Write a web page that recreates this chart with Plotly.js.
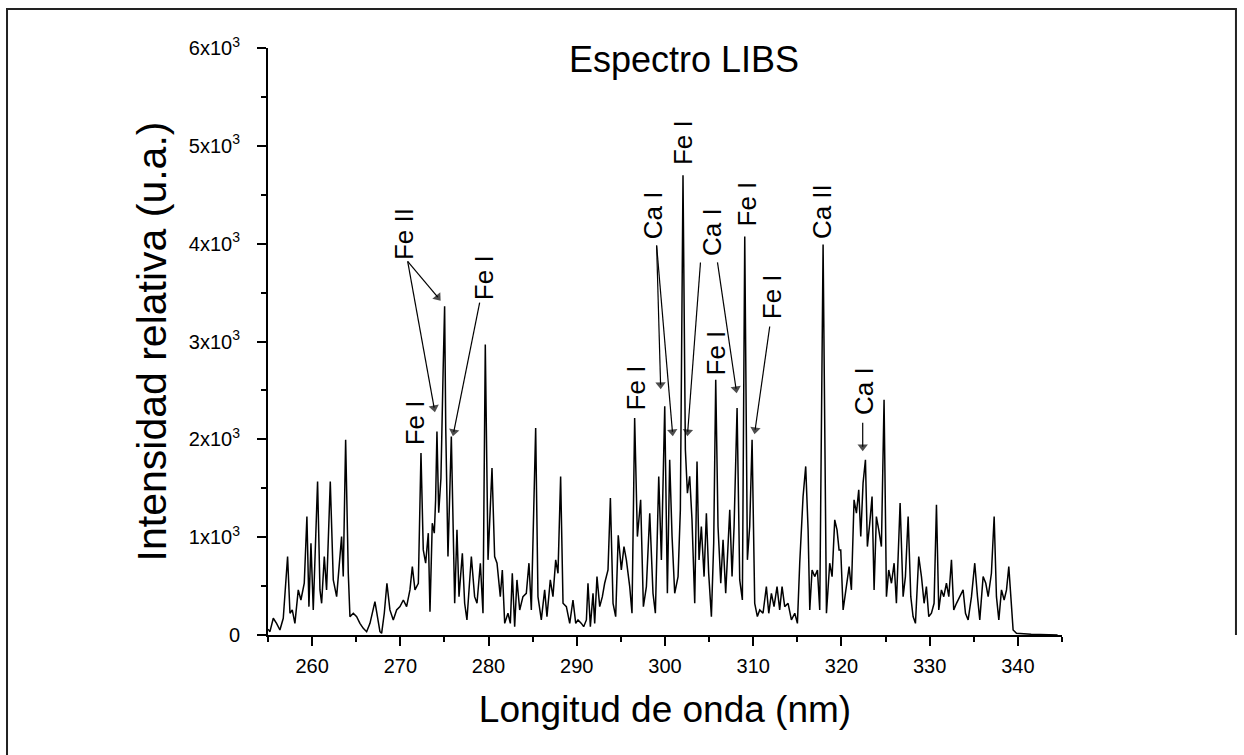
<!DOCTYPE html>
<html>
<head>
<meta charset="utf-8">
<script src="https://cdn.plot.ly/plotly-3.0.1.min.js"></script>
<style>html,body{margin:0;padding:0;background:#fff;}#chart{width:1244px;height:755px;}</style>
</head>
<body>
<div id="chart"></div>
<script>
// Wavelength (nm)
const wavelength = [
255.00,255.22,255.60,255.97,256.35,256.73,257.22,257.49,257.75,258.05,258.43,258.73,259.11,259.41,259.64,259.87,
260.13,260.62,260.89,261.08,261.38,261.64,262.06,262.40,262.78,263.08,263.34,263.53,263.80,264.10,264.29,264.67,
265.05,265.42,265.80,266.18,266.56,267.12,267.43,267.69,267.88,268.18,268.48,268.82,269.20,269.58,269.96,270.34,
270.71,271.09,271.36,271.66,272.04,272.34,272.60,272.87,273.17,273.36,273.62,273.85,274.00,274.15,274.35,274.60,
274.85,275.02,275.15,275.40,275.78,276.16,276.42,276.65,277.03,277.29,277.55,278.05,278.42,278.69,279.07,279.37,
279.63,279.94,280.39,280.69,280.96,281.33,281.56,281.83,282.20,282.47,282.69,282.96,283.22,283.53,283.90,284.28,
284.58,284.85,285.34,285.60,285.98,286.36,286.62,287.00,287.30,287.61,287.87,288.17,288.44,288.82,289.20,289.57,
289.88,290.14,290.52,290.78,291.09,291.27,291.54,291.84,292.03,292.29,292.60,292.90,293.16,293.54,293.81,294.11,
294.41,294.70,295.05,295.35,295.62,296.00,296.26,296.56,296.87,297.24,297.55,297.89,298.27,298.64,298.91,299.29,
299.59,299.97,300.27,300.53,300.80,301.10,301.48,301.74,302.04,302.31,302.54,302.80,303.06,303.37,303.63,303.86,
304.12,304.43,304.69,304.95,305.26,305.52,305.75,306.01,306.32,306.58,306.88,307.15,307.34,307.60,307.83,308.17,
308.47,308.77,309.04,309.34,309.60,309.87,310.17,310.47,310.74,311.11,311.49,311.76,312.06,312.36,312.70,313.00,
313.27,313.57,313.95,314.33,314.71,315.01,315.27,315.65,315.95,316.22,316.41,316.67,316.97,317.28,317.54,317.92,
318.30,318.67,318.94,319.24,319.50,319.73,319.92,320.19,320.56,320.87,321.13,321.43,321.70,321.96,322.19,322.45,
322.72,322.94,323.21,323.47,323.70,323.96,324.23,324.53,324.83,325.10,325.36,325.67,325.97,326.23,326.65,326.99,
327.25,327.56,327.86,328.12,328.39,328.76,329.07,329.37,329.63,329.90,330.20,330.50,330.77,331.03,331.33,331.60,
331.90,332.17,332.47,332.73,333.04,333.41,333.79,334.06,334.36,334.74,335.11,335.42,335.68,336.06,336.36,336.63,
337.00,337.31,337.57,337.84,338.14,338.44,338.71,338.97,339.20,339.46,339.84,340.50,341.50,342.50,343.50,344.50
];
// Relative intensity (a.u.)
const intensity = [
60,34,171,119,51,171,802,222,256,119,461,358,529,1211,290,938,
256,1569,461,324,802,461,1569,563,392,734,1006,597,1996,631,188,222,
188,119,68,34,119,341,154,34,17,222,529,256,154,256,290,358,
290,461,699,461,529,1859,870,734,1041,239,1143,1041,1382,2080,1250,1600,
2700,3360,2100,802,2030,324,1075,392,836,324,154,802,392,324,734,222,
2968,768,1706,802,734,392,665,119,222,119,631,85,563,256,392,426,
734,256,2115,392,154,461,188,563,392,768,631,1621,324,290,119,358,
119,154,119,85,154,529,85,426,119,597,290,392,529,665,1399,324,
188,1020,665,904,768,495,222,2218,1006,1382,290,495,1245,426,222,1621,
768,2337,426,1791,1006,426,597,1279,4698,1894,1450,1621,1177,324,1774,768,
1109,597,1245,631,188,938,2610,1109,529,972,426,904,1279,597,1109,2320,
563,358,4074,768,1109,1996,324,188,256,222,495,222,426,290,495,256,
495,290,324,154,222,119,734,1416,1723,1075,256,665,597,665,256,3992,
222,734,597,1177,1075,870,870,256,529,699,461,1382,1245,1484,1006,1552,
1791,904,1143,1416,461,1211,1075,904,2405,392,665,529,734,324,1348,392,
597,1211,392,188,119,802,597,324,495,188,222,324,1331,256,461,392,
529,392,768,256,324,392,461,222,154,392,734,392,154,597,529,392,
631,1211,392,154,461,358,461,699,392,51,17,12,8,5,3,0
];

const yTickVals = [0,1000,2000,3000,4000,5000,6000];
const yTickText = ['0','1x10<sup>3</sup>','2x10<sup>3</sup>','3x10<sup>3</sup>','4x10<sup>3</sup>','5x10<sup>3</sup>','6x10<sup>3</sup>'];
const xTickVals = [260,270,280,290,300,310,320,330,340];
const xTickText = ['260','270','280','290','300','310','320','330','340'];

// Line labels (element name, label position)
const labelText = ['Fe II','Fe I','Fe I','Fe I','Ca I','Fe I','Ca I','Fe I','Fe I','Fe I','Ca II','Ca I'];
const labelX    = [270.48,271.62,279.44,296.68,298.74,302.12,305.39,305.76,309.30,312.10,317.88,322.48];
const labelY    = [4094,2170,3654,2528,4289,5036,4115,2886,4401,3460,4330,2497];

// Arrows (tail -> head)
const arrowTailX = [270.83,270.83,278.99,299.05,299.05,304.02,305.95,311.87,322.41];
const arrowTailY = [3818,3818,3398,3982,3982,3808,3808,3153,2170];
const arrowHeadX = [274.46,273.89,275.99,299.51,300.87,302.55,308.10,310.17,322.41];
const arrowHeadY = [3429,2293,2047,2528,2047,2047,2487,2068,1894];

const FONT = '"Liberation Sans", Arial, sans-serif';

const annotations = labelText.map((t, i) => ({
  x: labelX[i], y: labelY[i], xref: 'x', yref: 'y',
  text: t, showarrow: false, textangle: -90,
  font: {family: FONT, size: 26, color: '#000'}
}));

const spectrum = {
  x: wavelength, y: intensity, type: 'scatter', mode: 'lines',
  line: {color: '#000', width: 1.5}, hoverinfo: 'skip'
};

// arrows: line from tail to head, triangle marker at head oriented along the segment
const ax = [], ay = [], msize = [];
for (let i = 0; i < arrowTailX.length; i++) {
  ax.push(arrowTailX[i], arrowHeadX[i], null);
  ay.push(arrowTailY[i], arrowHeadY[i], null);
  msize.push(0, 9, 0);
}
const arrows = {
  x: ax, y: ay, type: 'scatter', mode: 'lines+markers', connectgaps: false,
  line: {color: '#000', width: 1.2},
  marker: {symbol: 'triangle-up', size: msize, color: '#000', angleref: 'previous', standoff: 3, line: {width: 0}},
  hoverinfo: 'skip'
};

const layout = {
  width: 1244, height: 755,
  margin: {l: 268, r: 182, t: 48, b: 120, pad: 0},
  paper_bgcolor: '#fff', plot_bgcolor: '#fff',
  showlegend: false,
  font: {family: FONT, color: '#000'},
  title: {text: 'Espectro LIBS', xref: 'paper', yref: 'paper', x: 0.524, y: 0.98,
          xanchor: 'center', yanchor: 'middle', font: {family: FONT, size: 36, color: '#000'}},
  xaxis: {
    range: [255, 345], showgrid: false, zeroline: false,
    showline: true, linecolor: '#000', linewidth: 2,
    ticks: 'outside', ticklen: 9, tickwidth: 2, tickcolor: '#000',
    tickmode: 'array', tickvals: xTickVals, ticktext: xTickText,
    ticklabelstandoff: 3,
    minor: {tickmode: 'linear', tick0: 255, dtick: 5, ticks: 'outside', ticklen: 5, tickwidth: 2, tickcolor: '#000'},
    tickfont: {family: FONT, size: 20, color: '#000'},
    title: {text: 'Longitud de onda (nm)', font: {family: FONT, size: 37, color: '#000'}, standoff: 20}
  },
  yaxis: {
    range: [0, 6000], showgrid: false, zeroline: false,
    showline: true, linecolor: '#000', linewidth: 2,
    ticks: 'outside', ticklen: 9, tickwidth: 2, tickcolor: '#000',
    tickmode: 'array', tickvals: yTickVals, ticktext: yTickText,
    ticklabelstandoff: 13,
    minor: {tickmode: 'linear', tick0: 0, dtick: 500, ticks: 'outside', ticklen: 5, tickwidth: 2, tickcolor: '#000'},
    tickfont: {family: FONT, size: 20, color: '#000'},
    title: {text: 'Intensidad relativa (u.a.)', font: {family: FONT, size: 41, color: '#000'}, standoff: 9}
  },
  annotations: annotations,
  shapes: [
    {type: 'path', xref: 'paper', yref: 'paper',
     path: 'M -0.3287 -0.21 L -0.3287 1.0664 L 1.2191 1.0664 L 1.2191 0.0',
     line: {color: '#222', width: 2}}
  ]
};

Plotly.newPlot('chart', [spectrum, arrows], layout, {displayModeBar: false, staticPlot: true});
</script>
</body>
</html>
